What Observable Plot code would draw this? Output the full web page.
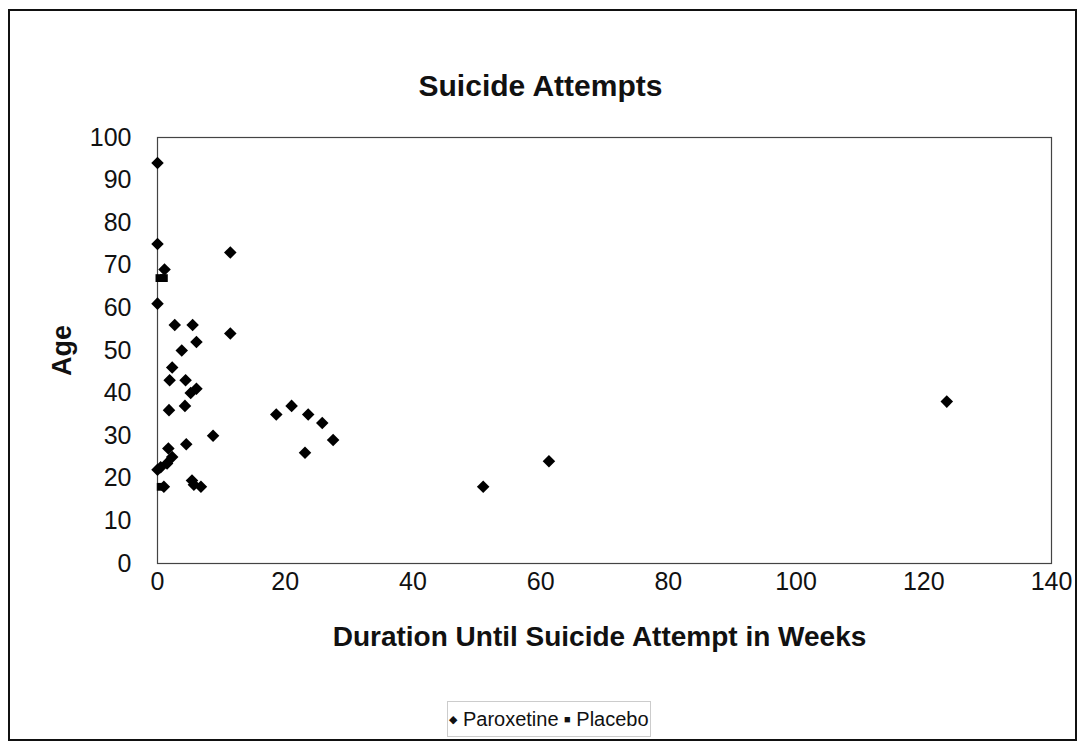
<!DOCTYPE html>
<html>
<head>
<meta charset="utf-8">
<script src="https://cdn.jsdelivr.net/npm/d3@7"></script>
<script src="https://cdn.jsdelivr.net/npm/@observablehq/plot@0.6"></script>
<style>
  html, body { margin: 0; padding: 0; background: #fff; }
  #wrap { position: relative; width: 1081px; height: 745px; overflow: hidden; font-family: "Liberation Sans", Arial, sans-serif; }
  #border { position: absolute; left: 8px; top: 9px; width: 1069px; height: 732px; border: 2px solid #111; box-sizing: border-box; pointer-events: none; }
  #legend { position: absolute; left: 447px; top: 701px; width: 204px; height: 36px; border: 1px solid #ccc; box-sizing: border-box;
            font-size: 20px; line-height: 34px; text-align: center; color: #111; white-space: nowrap; }
  #legend .sym { font-size: 11px; vertical-align: 3px; }
  #chart { position: absolute; left: 0; top: 0; }
</style>
</head>
<body>
<div id="wrap">
  <div id="chart"></div>
  <div id="border"></div>
  <div id="legend"><span class="sym">◆</span> Paroxetine <span class="sym">■</span> Placebo</div>
</div>
<script>
// Data
const paroxWeeks = [0, 0, 1.1, 0, 11.4, 2.7, 5.5, 11.4, 6.1, 3.8, 2.3, 1.9, 4.4, 6.1, 5.2, 1.8, 4.3, 8.7, 4.5,
                    1.7, 2.3, 1.5, 0.5, 0, 1.0, 5.4, 5.7, 6.8,
                    18.6, 21.0, 23.6, 25.8, 27.5, 23.1, 61.3, 51.0, 123.6];
const paroxAge   = [94, 75, 69, 61, 73, 56, 56, 54, 52, 50, 46, 43, 43, 41, 40, 36, 37, 30, 28,
                    27, 25, 23.5, 22.6, 22, 18, 19.5, 18.5, 18,
                    35, 37, 35, 33, 29, 26, 24, 18, 38];
const placeboWeeks = [0.3, 1.0, 0.5];
const placeboAge   = [67, 67, 18];

const xTicks = [0, 20, 40, 60, 80, 100, 120, 140];
const yTicks = [0, 10, 20, 30, 40, 50, 60, 70, 80, 90, 100];
const title = "Suicide Attempts";
const xLabel = "Duration Until Suicide Attempt in Weeks";
const yLabel = "Age";

const parox = paroxWeeks.map((w, i) => ({weeks: w, age: paroxAge[i]}));
const placebo = placeboWeeks.map((w, i) => ({weeks: w, age: placeboAge[i]}));

const plot = Plot.plot({
  width: 1081,
  height: 745,
  marginLeft: 157,
  marginRight: 30,
  marginTop: 137,
  marginBottom: 182,
  style: {fontFamily: "'Liberation Sans', Arial, sans-serif", color: "#111", background: "transparent"},
  x: {domain: [0, 140]},
  y: {domain: [0, 100]},
  marks: [
    Plot.frame({stroke: "#444", strokeWidth: 1.2}),
    Plot.axisX({ticks: xTicks, tickSize: 0, tickPadding: 9, fontSize: 25, label: null}),
    Plot.axisY({ticks: yTicks, tickSize: 0, tickPadding: 26, fontSize: 25, label: null}),
    Plot.dot(parox, {x: "weeks", y: "age", symbol: "square", rotate: 45, r: 5, fill: "#000"}),
    Plot.dot(placebo, {x: "weeks", y: "age", symbol: "square", r: 4.4, fill: "#000"}),
    Plot.text([title], {frameAnchor: "top", dy: -63, fontSize: 30, fontWeight: "bold", dx: -64}),
    Plot.text([xLabel], {frameAnchor: "bottom", dy: 82, fontSize: 28, fontWeight: "bold", dx: -5}),
    Plot.text([yLabel], {frameAnchor: "left", textAnchor: "middle", dx: -95, fontSize: 27, fontWeight: "bold", rotate: -90})
  ]
});
document.getElementById("chart").appendChild(plot);
</script>
</body>
</html>
